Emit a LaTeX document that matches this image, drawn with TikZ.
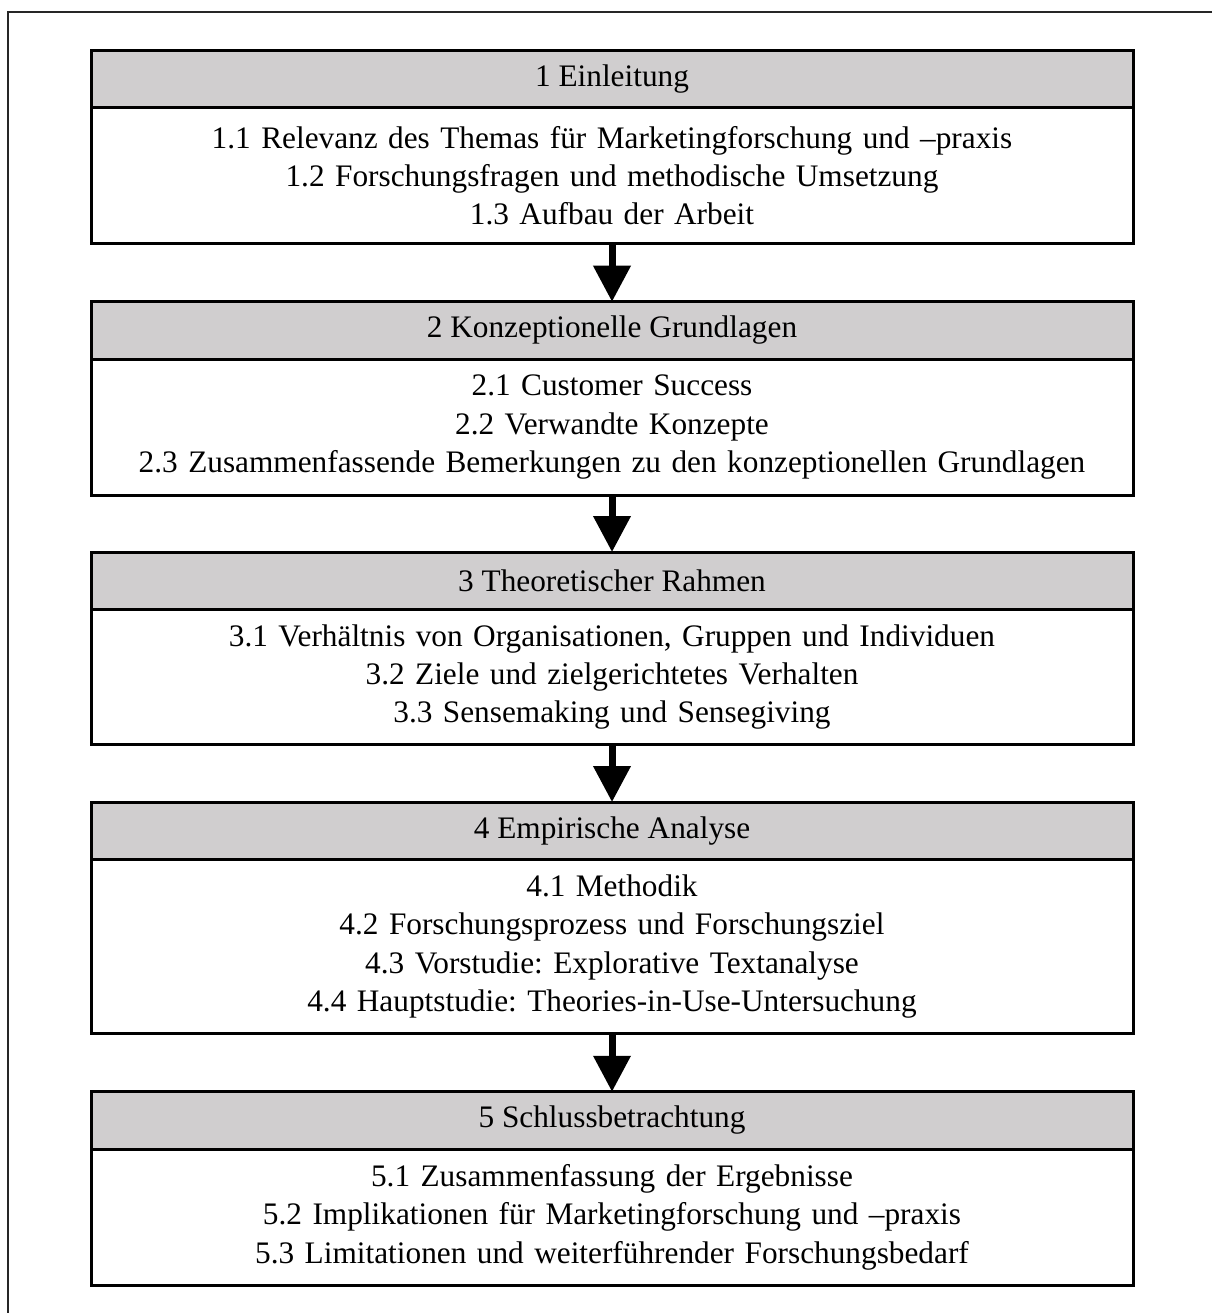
\documentclass[tikz,border=0pt]{standalone}
\usepackage{fontspec}
\setmainfont{Liberation Serif}
\usetikzlibrary{arrows.meta}
\definecolor{headgray}{RGB}{208,206,207}
\frenchspacing
\begin{document}
\begin{tikzpicture}[x=1pt,y=-1pt,
  chapterhead/.style={draw=black,line width=3pt,fill=headgray,outer sep=0pt,
    minimum width=1042pt,minimum height=57.5pt,inner sep=0pt,
    font=\fontsize{31.3pt}{38.3pt}\selectfont},
  chapterbody/.style={draw=black,line width=3pt,anchor=north,outer sep=0pt,
    minimum width=1042pt,inner sep=0pt,text width=1036pt,align=center,
    font=\fontsize{31.3pt}{38.3pt}\selectfont},
  flowarrow/.style={line width=7pt,-{Triangle[width=36pt,length=36pt]}}]
\useasboundingbox (0,0) rectangle (1212,1313);
% outer frame
\draw[line width=2pt,black!85] (1212,12.5) -- (7.5,12.5) -- (7.5,1313);

% chapter 1
\node[chapterhead] (h1) at (612,78.8) {1 Einleitung};
\node[chapterbody,minimum height=136pt] (b1) at (h1.south)
  {1.1 Relevanz des Themas für Marketingforschung und –praxis\\
   1.2 Forschungsfragen und methodische Umsetzung\\
   1.3 Aufbau der Arbeit};

% chapter 2
\node[chapterhead] (h2) at (612,330.5) {2 Konzeptionelle Grundlagen};
\node[chapterbody,minimum height=136pt] (b2) at (h2.south)
  {2.1 Customer Success\\
   2.2 Verwandte Konzepte\\
   2.3 Zusammenfassende Bemerkungen zu den konzeptionellen Grundlagen};

% chapter 3
\node[chapterhead] (h3) at (612,580.8) {3 Theoretischer Rahmen};
\node[chapterbody,minimum height=135pt] (b3) at (h3.south)
  {3.1 Verhältnis von Organisationen, Gruppen und Individuen\\
   3.2 Ziele und zielgerichtetes Verhalten\\
   3.3 Sensemaking und Sensegiving};

% chapter 4
\node[chapterhead] (h4) at (612,830.8) {4 Empirische Analyse};
\node[chapterbody,minimum height=174pt] (b4) at (h4.south)
  {4.1 Methodik\\
   4.2 Forschungsprozess und Forschungsziel\\
   4.3 Vorstudie: Explorative Textanalyse\\
   4.4 Hauptstudie: Theories-in-Use-Untersuchung};

% chapter 5
\node[chapterhead] (h5) at (612,1120.5) {5 Schlussbetrachtung};
\node[chapterbody,minimum height=136pt] (b5) at (h5.south)
  {5.1 Zusammenfassung der Ergebnisse\\
   5.2 Implikationen für Marketingforschung und –praxis\\
   5.3 Limitationen und weiterführender Forschungsbedarf};

% connectors between chapters
\draw[flowarrow] (b1.south) -- (h2.north);
\draw[flowarrow] (b2.south) -- (h3.north);
\draw[flowarrow] (b3.south) -- (h4.north);
\draw[flowarrow] (b4.south) -- (h5.north);
\end{tikzpicture}
\end{document}
